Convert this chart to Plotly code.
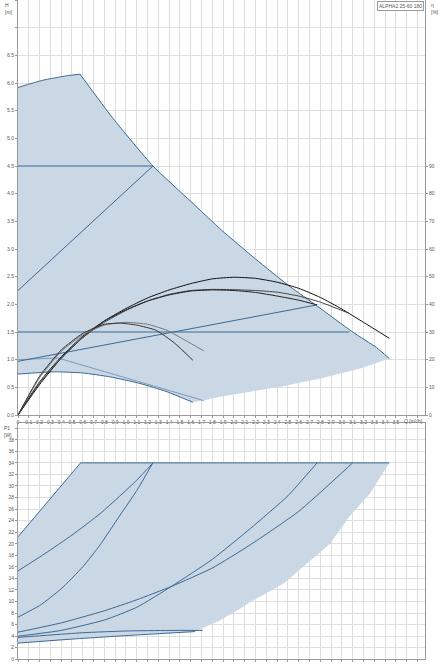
import plotly.graph_objects as go

# ---------------- data: top chart (H [m] vs Q [m3/h]) ----------------
q_max = [0, 0.23, 0.45, 0.574, 0.88, 1.25, 1.6, 1.886, 2.2, 2.52, 2.77, 3.1, 3.32, 3.44]
h_max = [5.92, 6.05, 6.13, 6.16, 5.36, 4.5, 3.86, 3.34, 2.82, 2.32, 1.97, 1.5, 1.22, 1.02]
PEAK = 3  # index of the corner of the max curve

q_sys = [3.44, 3.17, 2.80, 2.43, 2.06, 1.87, 1.72]
h_sys = [1.02, 0.84, 0.66, 0.51, 0.39, 0.33, 0.26]

q_min = [1.62, 1.38, 1.13, 0.85, 0.6, 0.33, 0]
h_min = [0.23, 0.42, 0.57, 0.69, 0.76, 0.78, 0.74]

q_minc = [0, 0.37, 1.72]
h_minc = [1.0, 1.03, 0.26]

q_pp_hi = [0, 1.25]
h_pp_hi = [2.25, 4.5]
q_pp_lo = [0, 2.77]
h_pp_lo = [0.97, 1.99]
q_cp_hi = [0, 1.25]
h_cp_hi = [4.5, 4.5]
q_cp_lo = [0, 3.07]
h_cp_lo = [1.5, 1.5]

# efficiency curves eta [%]
q_e1 = [0, 0.2, 0.4, 0.6, 0.8, 1.0, 1.2, 1.4, 1.6, 1.8, 2.0, 2.2, 2.4, 2.6, 2.8, 3.0, 3.2, 3.44]
e_e1 = [0, 11, 20.5, 28, 34, 38.5, 42.3, 45.2, 47.5, 49.2, 49.8, 49.4, 48, 45.8, 42.5, 38.3, 33.5, 27.7]
q_e2 = [0, 0.2, 0.4, 0.6, 0.8, 1.0, 1.2, 1.4, 1.6, 1.8, 2.0, 2.2, 2.4, 2.6, 2.8, 3.07]
e_e2 = [0, 11.5, 20.5, 28, 33.5, 37.8, 41.2, 43.6, 45.0, 45.4, 45.3, 45.0, 44.4, 43.0, 40.8, 36.7]
q_e3 = [0, 0.2, 0.4, 0.6, 0.8, 1.0, 1.2, 1.4, 1.6, 1.8, 2.0, 2.2, 2.4, 2.6, 2.77]
e_e3 = [0, 12, 21, 28.5, 34, 38, 41.2, 43.4, 44.8, 45.2, 45.0, 44.3, 43.0, 41.5, 39.8]
q_e4 = [0, 0.2, 0.4, 0.6, 0.8, 1.0, 1.2, 1.38, 1.55, 1.72]
e_e4 = [0, 13.5, 23, 29, 32.5, 33.5, 32.8, 30.6, 27.0, 23.2]
q_e5 = [0, 0.2, 0.4, 0.6, 0.8, 0.95, 1.1, 1.28, 1.45, 1.62]
e_e5 = [0, 14, 23.5, 29.5, 32.8, 33.2, 32.5, 30.6, 26.0, 19.8]

# ---------------- data: bottom chart (P1 [W] vs Q) ----------------
q_pmax = [0, 0.58, 3.44]
p_pmax = [21.2, 34, 34]

q_psys = [1.64, 1.87, 2.08, 2.15, 2.46, 2.64, 2.89, 3.07, 3.26, 3.44]
p_psys = [4.8, 6.7, 9.0, 9.9, 13.1, 16.0, 20.0, 24.7, 28.7, 34]

q_pp_hi_p = [0, 0.25, 0.5, 0.76, 0.94, 1.1, 1.25]
p_pp_hi_p = [15.3, 18.3, 21.5, 25.2, 28.2, 31.0, 34]
q_cp_hi_p = [0, 0.2, 0.4, 0.6, 0.76, 0.94, 1.1, 1.25]
p_cp_hi_p = [7.3, 9.3, 12.2, 16.0, 19.8, 24.8, 29.2, 34]
q_b = [0, 0.4, 0.8, 1.1, 1.42, 1.8, 2.15, 2.5, 2.77]
p_b = [4.0, 5.0, 6.8, 9.0, 12.6, 17.3, 22.6, 28.3, 34]
q_a = [0, 0.4, 0.8, 1.1, 1.42, 1.8, 2.15, 2.6, 3.1]
p_a = [4.7, 6.3, 8.4, 10.3, 12.6, 15.8, 19.8, 25.6, 34]
q_c = [0, 0.3, 0.6, 1.0, 1.4, 1.71]
p_c = [3.8, 4.2, 4.6, 4.9, 5.0, 5.0]
q_d = [0, 0.5, 1.0, 1.64]
p_d = [2.8, 3.5, 4.1, 4.8]

# ticks
x_ticks = [round(i * 0.1, 1) for i in range(0, 38)]
x_text = ["0"] + [f"{v:.1f}" for v in x_ticks[1:36]] + ["", ""]
h_ticks = [round(i * 0.5, 1) for i in range(0, 16)]
h_text = [f"{v:.1f}" for v in h_ticks[:14]] + ["", ""]
eta_ticks = list(range(0, 100, 10))
p_ticks = list(range(0, 42, 2))
p_text = [str(v) for v in p_ticks[:-1]] + [""]

FILL = "#cad7e4"
BLUE = "#3c6995"
LBLUE = "#7b9cbd"
GRID = "#dedede"
FONT = dict(family="Liberation Sans, Arial", size=5, color="#555")

fig = go.Figure()

# top shaded region
poly_x = q_max + q_sys[1:] + q_min
poly_y = h_max + h_sys[1:] + h_min
fig.add_trace(go.Scatter(x=poly_x, y=poly_y, fill="toself", fillcolor=FILL,
                         line=dict(width=0), mode="lines", hoverinfo="skip",
                         xaxis="x", yaxis="y"))

def tline(x, y, color=BLUE, width=1, xa="x", ya="y", shape="spline"):
    fig.add_trace(go.Scatter(x=x, y=y, mode="lines",
                             line=dict(color=color, width=width, shape=shape, smoothing=0.5),
                             hoverinfo="skip", xaxis=xa, yaxis=ya))

tline(q_max[:PEAK + 1], h_max[:PEAK + 1])
tline(q_max[PEAK:], h_max[PEAK:])
tline(q_min, h_min)
tline(q_minc, h_minc, color=LBLUE, shape="linear")
tline(q_pp_hi, h_pp_hi, shape="linear")
tline(q_pp_lo, h_pp_lo, shape="linear")
tline(q_cp_hi, h_cp_hi, shape="linear")
tline(q_cp_lo, h_cp_lo, shape="linear")

for qq, ee, col in [(q_e1, e_e1, "#111"), (q_e2, e_e2, "#444"), (q_e3, e_e3, "#222"),
                    (q_e4, e_e4, "#777"), (q_e5, e_e5, "#333")]:
    tline(qq, ee, color=col, width=1, ya="y2")

# bottom shaded region
pb_x = q_d + q_psys[1:] + [0.58, 0]
pb_y = p_d + p_psys[1:] + [34, 21.2]
fig.add_trace(go.Scatter(x=pb_x, y=pb_y, fill="toself", fillcolor=FILL,
                         line=dict(width=0), mode="lines", hoverinfo="skip",
                         xaxis="x2", yaxis="y3"))
for qq, pp in [(q_pmax, p_pmax), (q_pp_hi_p, p_pp_hi_p), (q_cp_hi_p, p_cp_hi_p),
               (q_b, p_b), (q_a, p_a), (q_c, p_c), (q_d, p_d)]:
    tline(qq, pp, xa="x2", ya="y3", shape="spline" if len(qq) > 3 else "linear")

W, H = 444, 665
xdom = [18 / W, 425 / W]
axis_common = dict(showgrid=True, gridcolor=GRID, gridwidth=1, zeroline=False,
                   showline=True, linecolor="#999", linewidth=1, tickfont=FONT,
                   ticks="outside", ticklen=2, tickcolor="#999", automargin=False)

fig.update_layout(
    width=W, height=H, margin=dict(l=0, r=0, t=0, b=0),
    paper_bgcolor="white", plot_bgcolor="white", showlegend=False,
    xaxis=dict(domain=xdom, range=[0, 3.77], anchor="y", tickmode="array",
               tickvals=x_ticks, ticktext=x_text, **axis_common),
    yaxis=dict(domain=[250 / H, 1], range=[0, 7.5], tickmode="array",
               tickvals=h_ticks, ticktext=h_text, **axis_common),
    yaxis2=dict(overlaying="y", side="right", range=[0, 150], tickmode="array",
                tickvals=eta_ticks, showgrid=False, zeroline=False, showline=True,
                linecolor="#999", tickfont=FONT, ticks="outside", ticklen=2,
                tickcolor="#999", anchor="x", automargin=False),
    xaxis2=dict(domain=xdom, range=[0, 3.77], anchor="y3", tickmode="array",
                tickvals=x_ticks, showticklabels=False, mirror=True, **axis_common),
    yaxis3=dict(domain=[5.7 / H, 242 / H], range=[0, 40.9], tickmode="array",
                tickvals=p_ticks, ticktext=p_text, mirror=True, **axis_common),
)

ann = [
    dict(text="H<br>[m]", x=9 / W, y=1.0, xanchor="center", yanchor="top"),
    dict(text="η<br>[%]", x=435 / W, y=1.0, xanchor="center", yanchor="top"),
    dict(text="P1<br>[W]", x=8 / W, y=(H - 423) / H, xanchor="center", yanchor="top"),
    dict(text="Q [m³/h]", x=413 / W, y=(H - 416) / H, xanchor="center", yanchor="top"),
]
for a in ann:
    fig.add_annotation(xref="paper", yref="paper", showarrow=False, font=FONT, align="left", **a)
fig.add_annotation(xref="paper", yref="paper", x=424 / W, y=(H - 1) / H, xanchor="right",
                   yanchor="top", showarrow=False, text="ALPHA2 25-60 180", font=FONT,
                   bordercolor="#999", borderwidth=1, borderpad=1, bgcolor="white")

fig.write_html("out.html", config={"displayModeBar": False},
               post_script="document.body.style.margin='0';document.body.style.overflow='hidden';")
